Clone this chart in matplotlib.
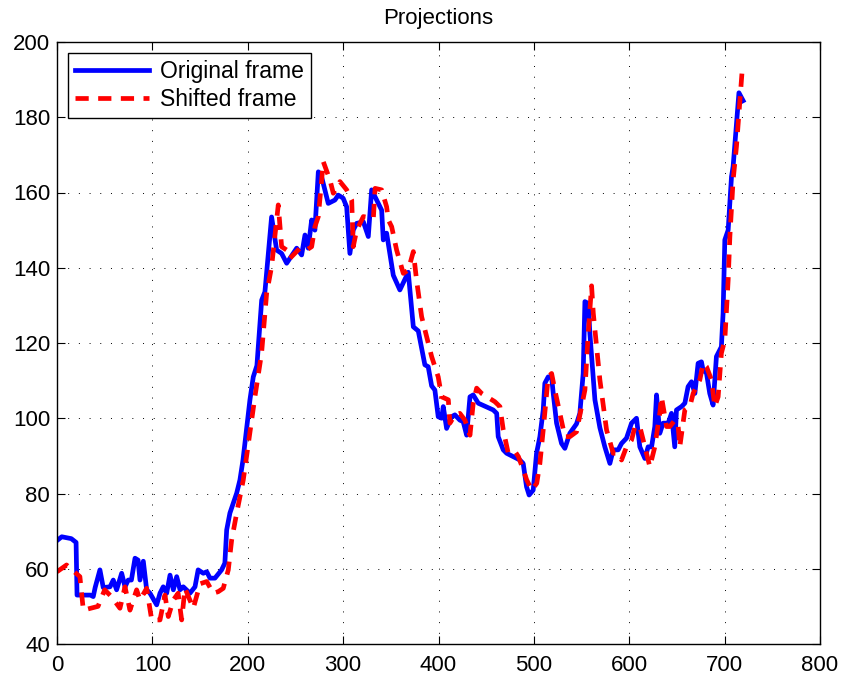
import matplotlib
matplotlib.use("Agg")
import matplotlib.pyplot as plt

plt.rcParams['font.family'] = ['Liberation Sans', 'DejaVu Sans']

# Original frame (x, y)
orig_x = [0, 5, 15, 20, 21, 35, 38, 40, 45, 48.5, 55.6, 59, 62.5, 67.8, 71.3, 74.7, 78,
          81.8, 85, 87, 90.5, 94, 97.5, 104.5, 108, 111.4, 115, 118.5, 122, 125.5, 129,
          132.4, 139.4, 144.7, 148, 153.4, 157, 160.4, 165.6, 172.6, 176, 177.9, 181.3,
          188.4, 191.8, 195, 202.3, 205.8, 209.6, 214.6, 218, 225, 230.3, 235.5, 240.8,
          251.3, 256.5, 260, 263.4, 267, 270.4, 274, 277.4, 284.4, 291.4, 294.9, 300,
          303.7, 307.1, 310.6, 314.2, 321.2, 326.4, 329.9, 335.1, 340.4, 342.1, 345.6,
          352.6, 359.5, 368.3, 373.6, 378.8, 385.7, 389.2, 392.8, 396.2, 399.7, 403.3,
          405, 408.5, 413.7, 417.2, 422.4, 425.9, 429.5, 433, 436.4, 441.7, 457.4, 461,
          462.6, 467.9, 471.4, 478.3, 485.3, 488.8, 492.3, 495, 499.3, 502.8, 506.3,
          509.8, 511.5, 515, 518.6, 520.3, 523.8, 529, 532.5, 537.7, 544.7, 548.2, 551.7,
          553.5, 557, 558.7, 564, 569.2, 574.4, 579.7, 583.2, 588.4, 591.9, 597.1, 602.4,
          607.6, 611.1, 616.4, 619.8, 623.4, 626.8, 628.6, 632, 635.5, 640.8, 644.3,
          647.7, 649.5, 654.8, 658.3, 661.7, 665.3, 668.8, 672.2, 675.7, 677.4, 681,
          684.4, 687.9, 691.4, 696.6, 698.4, 700.2, 703.7, 707.2, 708.9, 715, 719.4]
orig_y = [67.5, 68.5, 68, 67, 53, 53, 52.6, 55, 59.7, 55, 55.2, 57, 54.4, 58.8, 55.2, 57, 57,
          62.8, 62.3, 57, 62, 54.4, 53.5, 50.4, 53.5, 55.2, 53.5, 58.3, 54.4, 57.9, 54.4,
          55.2, 53.5, 55.2, 59.7, 58.8, 59.2, 57.5, 57.5, 59.7, 61.5, 70.3, 74.8,
          80.1, 83.6, 88.9, 104.9, 111, 114, 131.4, 133.6, 153.5, 144.7, 143.8, 141.2,
          145.2, 143.4, 148.7, 145.2, 152.7, 150, 165.5, 164.2, 157.1, 158, 159.3, 158.5,
          156.2, 143.8, 150, 151.8, 152.2, 148.3, 160.7, 158, 155.3, 147.4, 149.2,
          138, 134.1, 138.8, 124.3, 123.2, 114.2, 113.7, 108.6, 107.5, 100.4, 100,
          103.1, 97.3, 100.4, 100.9, 99.5, 99.1, 95.5, 105.7, 106.2, 104, 102.2, 101.3,
          95.1, 91.6, 90.7, 89.8, 88.9, 88, 81.8, 79.6, 80.9, 90.7, 95.1,
          102.2, 109.3, 111, 111, 106.6, 98.7, 93.3, 92, 96, 98.5, 101.3, 111.9,
          131, 130.5, 122.6, 104.9, 97.5, 92.4, 88, 91.6, 91.6, 93.3, 94.7, 98.7,
          100, 92.4, 89.3, 92.4, 92.4, 97.8, 106.2, 96, 98.7, 98.7, 101.3,
          92.4, 102.2, 103.1, 104, 108.4, 109.7, 106.6, 114.6, 115, 112.8, 112,
          106.6, 103.5, 116.4, 119, 127.9, 147.4, 150, 164.2, 166.9, 186.5, 184.4]

# Shifted frame (x, y)
shift_x = [0, 10, 24, 27.6, 43, 50, 57, 66, 71.3, 76.5, 83.5, 87, 94, 99.3, 108, 113.2,
           116.7, 122, 127, 130.7, 134.2, 142.9, 150, 157, 163.8, 169, 174.3, 179.6,
           183.1, 188.4, 195.3, 207.5, 214.5, 219.8, 225, 232, 235.5, 240.8, 244.2,
           254.7, 261.7, 267, 270.4, 274, 279.2, 286.2, 289.7, 296.7, 303.7, 309, 310.6,
           314.2, 321.2, 331.7, 333.5, 340.4, 345.6, 347.4, 350.9, 356.1, 363.1, 368.3,
           373.6, 377, 382.3, 387.5, 392.8, 399.7, 403.3, 410.3, 412, 417.2, 422.4,
           427.7, 433, 436.4, 440, 445.2, 459.1, 464.4, 467.9, 473.1, 480.4, 483.8, 489,
           492.5, 497.8, 503, 506.3, 509.8, 515, 518.6, 522, 527.3, 532.5, 537.7, 544.7,
           553.5, 557, 560.5, 562.3, 569.2, 576.2, 583.2, 588.4, 591.9, 597.1, 602.4,
           606, 611.1, 616.4, 621.6, 626.8, 632, 633.8, 639.1, 642.6, 647.8, 651.3, 653,
           658.3, 663.5, 667, 674, 677.5, 681, 686.2, 689.7, 693.2, 696.6, 700.2, 703.7,
           705.5, 708.9, 712.4, 716, 718.4]
shift_y = [59.2, 61, 57.9, 49, 50, 54.4, 52.6, 49.5, 55.2, 49, 54.4, 51.7, 54.8, 46.4, 46.4, 53,
           47.3, 51.7, 53.5, 46.4, 54.8, 49.5, 56, 56.6, 53.5, 53.9, 54.8, 59.7,
           67.6, 74.8, 83.6, 105.7, 117.3, 133.2, 140.3, 156.7, 145.6, 144.7, 142.5,
           145.2, 144.7, 145.6, 150.9, 153.6, 168.2, 163.3, 159.8, 162.9, 160.7, 158, 145.6,
           150, 153.6, 153.1, 161.1, 160.7, 156.2, 152.7, 150.9, 144.7, 138.5, 139.4,
           144.3, 136.7, 127, 121.7, 116.4, 111, 105.7, 104.9, 98.7, 100.9, 101.3,
           99.5, 95.5, 104, 108, 106.6, 104.4, 103.1, 96.9, 90.7, 91.1, 89.8, 86.2,
           83.6, 80.9, 82.7, 88, 96.9, 111, 111.9, 107.5, 101.3, 95.1, 95.1, 96.4,
           107.5, 122.6, 135.2, 127.9, 110.2, 96.9, 90.7, 90.7, 88.9, 92.4, 94.2,
           97.8, 97.8, 92.4, 87.1, 92.4, 101.3, 105.7, 97.8, 97.8, 99.5, 97.8, 92.4,
           102.2, 103.1, 106.6, 110.2, 114.6, 113.7, 110.2, 103.1, 105.7, 117.3, 120.8, 136.7,
           148.3, 163.3, 172.2, 184.6, 192.5]

fig = plt.figure(figsize=(8.42, 6.8), dpi=100)
ax = fig.add_axes([57 / 842, 1 - 644 / 680, (820 - 57) / 842, (644 - 42) / 680])

ax.plot(orig_x, orig_y, color='#0000ff', lw=3.4, label='Original frame',
        solid_joinstyle='round')
ax.plot(shift_x, shift_y, color='#ff0000', lw=3.4, ls=(0, (2.8, 2.0)),
        label='Shifted frame')

ax.set_xlim(0, 800)
ax.set_ylim(40, 200)
ax.set_xticks(range(0, 801, 100))
ax.set_yticks(range(40, 201, 20))
ax.grid(True, color='black', lw=0.7, ls=(0, (1, 10)))
ax.tick_params(direction='in', length=6, width=0.8, top=True, right=True,
               labelsize=16)
ax.tick_params(axis='x', pad=8)
ax.tick_params(axis='y', pad=5)
for s in ax.spines.values():
    s.set_linewidth(1.0)

ax.set_title('Projections', fontsize=16, pad=13)

leg = ax.legend(loc='upper left', fontsize=16.5, handlelength=3.2, fancybox=False,
                edgecolor='black', framealpha=1, borderpad=0.3, labelspacing=0.2,
                handletextpad=0.5, borderaxespad=0.5)
leg.get_frame().set_linewidth(1.0)

fig.savefig('out.png', dpi=100)
